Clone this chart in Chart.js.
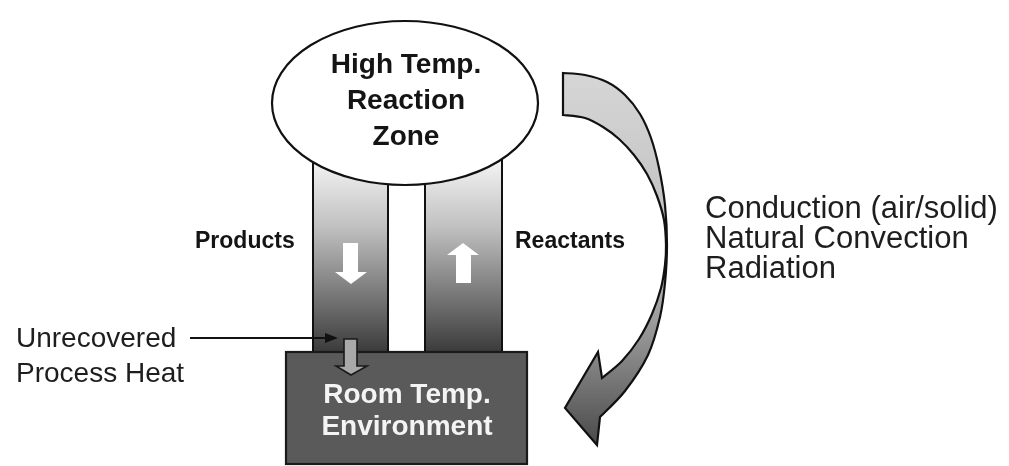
<!DOCTYPE html>
<html>
<head>
<meta charset="utf-8">
<script src="https://cdn.jsdelivr.net/npm/chart.js@4"></script>
<style>
  html, body { margin: 0; padding: 0; background: #fff; }
  #wrap { width: 1009px; height: 466px; }
</style>
</head>
<body>
<div id="wrap"><canvas id="chart"></canvas></div>
<script>
// text of the diagram
const zoneLines = ['High Temp.', 'Reaction', 'Zone'];
const roomLines = ['Room Temp.', 'Environment'];
const flowNames = ['Products', 'Reactants'];
const heatLines = ['Unrecovered', 'Process Heat'];
const mechanisms = ['Conduction (air/solid)', 'Natural Convection', 'Radiation'];

// geometry, in diagram units (x 0..1009, y 0..466 from top)
const zoneEllipse = [405, 103, 133, 82];          // cx, cy, rx, ry
const columnEdges = [313, 388, 425, 502];         // product column, reactant column
const columnSpan = [150, 352];                    // top, bottom
const roomBox = [286, 352, 527, 464];             // x0, y0, x1, y1
const downArrow = [[343, 243], [358, 243], [358, 272], [367, 272], [351, 284], [335, 272], [343, 272]];
const upArrow = [[463, 243], [479, 255], [471, 255], [471, 283], [456, 283], [456, 255], [447, 255]];
const heatArrow = [[344, 339], [357, 339], [357, 366], [367, 366], [351, 375], [336, 366], [344, 366]];
const pointer = [[190, 338], [338, 338]];

// curved arrow outline, in pieces
const outerEdge = [[563, 73], [585, 75], [607, 82], [625, 95], [640, 114], [651, 138], [659, 168], [665, 205], [667, 245], [665, 283], [660, 317], [648, 355], [625, 391], [600, 417]];
const arrowHead = [[597, 445], [565, 408], [598, 352], [602, 378]];
const innerEdge = [[602, 378], [622, 361], [639, 339], [652, 314], [661, 288], [665, 265], [666, 245], [664, 220], [657, 196], [647, 174], [634, 155], [619, 139], [603, 127], [585, 118], [563, 115]];

const diagram = {
  id: 'diagram',
  beforeDatasetsDraw(chart) {
    const ctx = chart.ctx;
    const X = v => chart.scales.x.getPixelForValue(v);
    const Y = v => chart.scales.y.getPixelForValue(v);

    function poly(pts) {
      ctx.beginPath();
      ctx.moveTo(X(pts[0][0]), Y(pts[0][1]));
      for (let i = 1; i < pts.length; i++) ctx.lineTo(X(pts[i][0]), Y(pts[i][1]));
      ctx.closePath();
    }
    // catmull-rom through the points, path already at pts[0]
    function smooth(pts) {
      const p = pts.map(q => [X(q[0]), Y(q[1])]);
      for (let i = 0; i < p.length - 1; i++) {
        const p0 = p[Math.max(i - 1, 0)], p1 = p[i], p2 = p[i + 1], p3 = p[Math.min(i + 2, p.length - 1)];
        ctx.bezierCurveTo(
          p1[0] + (p2[0] - p0[0]) / 6, p1[1] + (p2[1] - p0[1]) / 6,
          p2[0] - (p3[0] - p1[0]) / 6, p2[1] - (p3[1] - p1[1]) / 6,
          p2[0], p2[1]);
      }
    }

    ctx.save();
    ctx.lineJoin = 'miter';

    // columns
    const colGrad = ctx.createLinearGradient(0, Y(160), 0, Y(columnSpan[1]));
    colGrad.addColorStop(0, '#f4f4f4');
    colGrad.addColorStop(0.35, '#c0c0c0');
    colGrad.addColorStop(1, '#3b3b3b');
    for (let c = 0; c < 2; c++) {
      const x0 = X(columnEdges[c * 2]), x1 = X(columnEdges[c * 2 + 1]);
      const y0 = Y(columnSpan[0]), y1 = Y(columnSpan[1]);
      ctx.fillStyle = colGrad;
      ctx.fillRect(x0, y0, x1 - x0, y1 - y0);
      ctx.strokeStyle = '#111';
      ctx.lineWidth = 2;
      ctx.strokeRect(x0, y0, x1 - x0, y1 - y0);
    }

    // reaction zone ellipse
    const [cx, cy, rx, ry] = zoneEllipse;
    ctx.beginPath();
    ctx.ellipse(X(cx), Y(cy), Math.abs(X(cx + rx) - X(cx)), Math.abs(Y(cy + ry) - Y(cy)), 0, 0, Math.PI * 2);
    ctx.fillStyle = '#fff';
    ctx.fill();
    ctx.lineWidth = 2.2;
    ctx.strokeStyle = '#111';
    ctx.stroke();

    // white flow arrows
    ctx.fillStyle = '#fff';
    poly(downArrow); ctx.fill();
    poly(upArrow); ctx.fill();

    // room box
    const bx0 = X(roomBox[0]), by0 = Y(roomBox[1]), bx1 = X(roomBox[2]), by1 = Y(roomBox[3]);
    ctx.fillStyle = '#5a5a5a';
    ctx.fillRect(bx0, by0, bx1 - bx0, by1 - by0);
    ctx.lineWidth = 2.2;
    ctx.strokeStyle = '#1a1a1a';
    ctx.strokeRect(bx0, by0, bx1 - bx0, by1 - by0);

    // heat arrow into the room
    poly(heatArrow);
    ctx.fillStyle = '#a9a9a9';
    ctx.fill();
    ctx.lineWidth = 1.6;
    ctx.strokeStyle = '#1a1a1a';
    ctx.stroke();

    // pointer from the label
    ctx.beginPath();
    ctx.moveTo(X(pointer[0][0]), Y(pointer[0][1]));
    ctx.lineTo(X(pointer[1][0]) - 10, Y(pointer[1][1]));
    ctx.lineWidth = 2;
    ctx.strokeStyle = '#111';
    ctx.stroke();
    ctx.beginPath();
    ctx.moveTo(X(pointer[1][0]), Y(pointer[1][1]));
    ctx.lineTo(X(pointer[1][0]) - 13, Y(pointer[1][1]) - 5);
    ctx.lineTo(X(pointer[1][0]) - 13, Y(pointer[1][1]) + 5);
    ctx.closePath();
    ctx.fillStyle = '#111';
    ctx.fill();

    // curved heat-loss arrow
    ctx.beginPath();
    ctx.moveTo(X(outerEdge[0][0]), Y(outerEdge[0][1]));
    smooth(outerEdge);
    arrowHead.forEach(p => ctx.lineTo(X(p[0]), Y(p[1])));
    smooth(innerEdge);
    ctx.closePath();
    const arcGrad = ctx.createLinearGradient(0, Y(73), 0, Y(445));
    arcGrad.addColorStop(0, '#d6d6d6');
    arcGrad.addColorStop(0.5, '#bdbdbd');
    arcGrad.addColorStop(0.75, '#8a8a8a');
    arcGrad.addColorStop(1, '#4a4a4a');
    ctx.fillStyle = arcGrad;
    ctx.fill();
    ctx.lineWidth = 2.2;
    ctx.strokeStyle = '#111';
    ctx.stroke();

    // text
    const font = '"Liberation Sans", Arial, sans-serif';
    ctx.textBaseline = 'alphabetic';

    ctx.fillStyle = '#141414';
    ctx.textAlign = 'center';
    ctx.font = 'bold 28px ' + font;
    zoneLines.forEach((t, i) => ctx.fillText(t, X(406), Y(73 + i * 36)));

    ctx.fillStyle = '#f4f4f4';
    roomLines.forEach((t, i) => ctx.fillText(t, X(407), Y(403 + i * 32)));

    ctx.fillStyle = '#141414';
    ctx.textAlign = 'left';
    ctx.font = 'bold 23px ' + font;
    ctx.fillText(flowNames[0], X(195), Y(248));
    ctx.fillText(flowNames[1], X(515), Y(248));

    ctx.fillStyle = '#1e1e1e';
    ctx.font = '28px ' + font;
    heatLines.forEach((t, i) => ctx.fillText(t, X(16), Y(347 + i * 35)));

    ctx.font = '31px ' + font;
    mechanisms.forEach((t, i) => ctx.fillText(t, X(705), Y(218 + i * 30)));

    ctx.restore();
  }
};

const ctx = document.getElementById('chart').getContext('2d');

const chartDiagram = new Chart(ctx, {
  type: 'scatter',
  data: { datasets: [{ data: [], pointRadius: 0 }] },
  options: {
    responsive: true,
    maintainAspectRatio: false,
    animation: false,
    layout: { padding: 0 },
    plugins: { legend: { display: false }, tooltip: { enabled: false } },
    scales: {
      x: { type: 'linear', min: 0, max: 1009, display: false },
      y: { type: 'linear', min: 0, max: 466, reverse: true, display: false }
    }
  },
  plugins: [diagram]
});
</script>
</body>
</html>
